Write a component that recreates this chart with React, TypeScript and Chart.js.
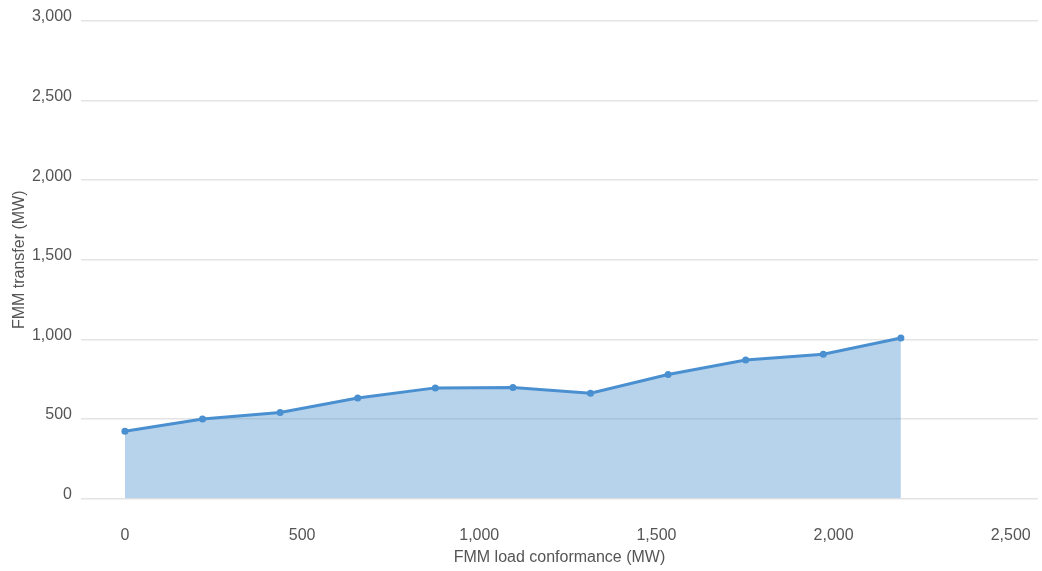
import { useEffect, useRef } from 'react'
import { Chart, registerables } from 'chart.js'

Chart.register(...registerables)

// FMM load conformance (MW)
const loadConformance = [0, 219, 438, 657, 876, 1095, 1314, 1533, 1752, 1971, 2190]
// FMM transfer (MW)
const transfer = [423, 500, 540, 632, 695, 698, 661, 779, 870, 906, 1008]

const xTicks = [0, 500, 1000, 1500, 2000, 2500]
const xTitle = 'FMM load conformance (MW)'
const yTitle = 'FMM transfer (MW)'

const App: React.FC = () => {
  const canvasRef = useRef<HTMLCanvasElement | null>(null)
  const chartRef = useRef<Chart | null>(null)

  useEffect(() => {
    const ctx = canvasRef.current?.getContext('2d')
    if (!ctx) return

    const font = { family: '"Liberation Sans", Arial, sans-serif', size: 16 }

    chartRef.current = new Chart(ctx, {
      type: 'line',
      data: {
        datasets: [
          {
            data: loadConformance.map((x, i) => ({ x, y: transfer[i] })),
            borderColor: '#4a90d0',
            backgroundColor: 'rgba(74,144,208,0.4)',
            borderWidth: 3,
            pointRadius: 3.5,
            pointBackgroundColor: '#4a90d0',
            pointBorderWidth: 0,
            fill: 'origin',
            tension: 0,
          },
        ],
      },
      options: {
        animation: false,
        responsive: true,
        maintainAspectRatio: false,
        layout: { padding: { top: 21, right: 0, left: 0, bottom: 0 } },
        plugins: { legend: { display: false }, tooltip: { enabled: false } },
        scales: {
          x: {
            type: 'linear',
            min: -124,
            max: 2577,
            grid: { display: false },
            border: { display: false },
            afterBuildTicks: (scale: any) => {
              scale.ticks = xTicks.map((value) => ({ value }))
            },
            ticks: {
              padding: 19,
              color: '#555',
              font,
              maxRotation: 0,
              autoSkip: false,
            },
            title: { display: true, text: xTitle, color: '#555', font, padding: { top: 0, bottom: 4 } },
            afterFit: (scale: any) => {
              scale.height = 72.5
              scale.paddingLeft = 0
              scale.paddingRight = 0
            },
          },
          y: {
            min: 0,
            max: 3000,
            grid: { color: '#e4e4e4', lineWidth: 1.5, drawTicks: false },
            border: { display: false },
            ticks: { stepSize: 500, padding: 9, labelOffset: -4, color: '#555', font },
            title: { display: true, text: yTitle, color: '#555', font, padding: { top: 10, bottom: 0 } },
            afterFit: (scale: any) => {
              scale.width = 81
            },
          },
        },
      },
    })
    return () => chartRef.current?.destroy()
  }, [])

  return (
    <div style={{ position: 'fixed', left: 0, top: 0, width: 1042, height: 571, background: '#fff' }}>
      <canvas ref={canvasRef} />
    </div>
  )
}

export default App
